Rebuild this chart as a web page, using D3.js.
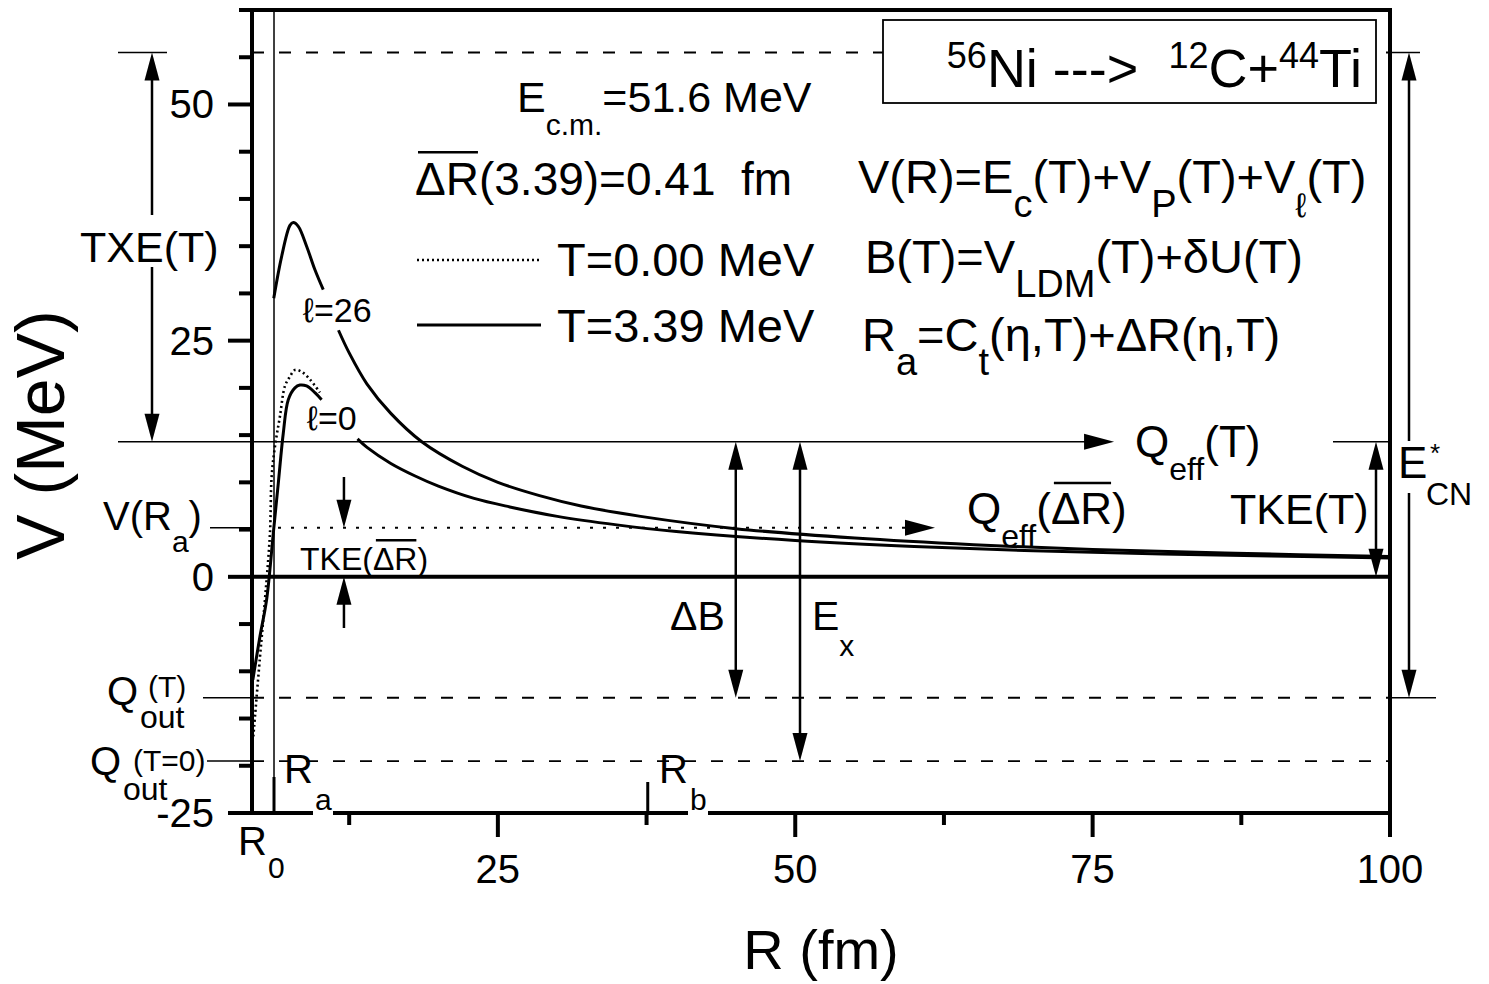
<!DOCTYPE html>
<html><head><meta charset="utf-8">
<script src="https://cdn.jsdelivr.net/npm/d3@7"></script>
<style>
body{margin:0;background:#fff}
text{font-family:"Liberation Sans",Arial,sans-serif;fill:#000}
</style></head>
<body><svg id="c" width="1489" height="984"></svg>
<script>
// ---------------- data ----------------
const xDomain = [4.33, 100];
const yDomain = [-25, 60];
const xMajorTicks = [25, 50, 75, 100];
const xMinorTicks = [12.5, 37.5, 62.5, 87.5];
const xTickLabels = ["25", "50", "75", "100"];
const yMajorTicks = [-25, 0, 25, 50];
const yMinorTicks = [-20, -15, -10, -5, 5, 10, 15, 20, 30, 35, 40, 45, 55, 60];
const yTickLabels = ["-25", "0", "25", "50"];

// T = 3.39 MeV, l = 26 (solid)
const l26Barrier_R = [6.16, 6.82, 7.52, 7.80, 8.22, 8.92, 9.62, 10.32];
const l26Barrier_V = [29.5, 33.9, 37.2, 37.5, 37.1, 35.0, 32.5, 30.4];
const l26Tail_R = [11.6, 12.5, 14, 16, 18.6, 22, 25, 28.5, 32, 37, 45, 55, 65, 75, 87, 100];
const l26Tail_V = [26.1, 23.7, 20.4, 17.3, 14.3, 11.7, 10.0, 8.6, 7.5, 6.4, 5.1, 4.1, 3.4, 2.9, 2.5, 2.15];
// T = 3.39 MeV, l = 0 (solid)
const l0Barrier_R = [4.40, 5.0, 5.56, 6.12, 6.54, 6.96, 7.38, 7.94, 8.36, 8.92, 9.62, 10.18];
const l0Barrier_V = [-10.9, -6.3, -2.4, 4.6, 9.9, 15.2, 18.75, 20.0, 20.3, 20.2, 19.5, 18.75];
const l0Tail_R = [13.2, 14, 16, 18, 20, 23, 26, 30, 35, 40, 50, 60, 70, 80, 90, 100];
const l0Tail_V = [14.6, 13.7, 12.0, 10.7, 9.6, 8.3, 7.4, 6.4, 5.5, 4.8, 3.85, 3.2, 2.75, 2.45, 2.2, 2.0];
// T = 0.00 MeV, l = 0 (dotted)
const t0Barrier_R = [4.44, 5.0, 5.42, 5.84, 5.98, 6.26, 6.68, 7.10, 7.52, 7.94, 8.50, 9.20, 10.04];
const t0Barrier_V = [-16.9, -8.5, -2.4, 4.6, 10.6, 13.8, 17.0, 20.2, 21.2, 21.9, 21.7, 20.9, 19.5];

// characteristic energies (MeV) and radii (fm)
const levelTop = 55.5;      // E_CN* top
const levelQeffT = 14.3;    // Q_eff(T)
const levelVRa = 5.2;       // V(R_a)
const levelQoutT = -12.8;   // Q_out(T)
const levelQoutT0 = -19.5;  // Q_out(T=0)
const levelTKE = 0;
const radiusRa = 6.18;
const radiusRb = 37.6;
const radiusDB = 45.0;
const radiusEx = 50.4;
const radiusTKEdR = 12.06;
const radiusQeffArrow = 76.8;
const radiusQeffDRArrow = 61.75;

// ---------------- drawing ----------------
const svg = d3.select("#c");
const x = d3.scaleLinear().domain(xDomain).range([252, 1390]);
const y = d3.scaleLinear().domain(yDomain).range([813, 10]);
const X0 = x(xDomain[0]), X1 = x(xDomain[1]), Y0 = y(yDomain[0]), Y1 = y(yDomain[1]);

function ln(x1, y1, x2, y2, w, dash) {
  const l = svg.append("line").attr("x1", x1).attr("y1", y1).attr("x2", x2).attr("y2", y2)
    .attr("stroke", "#000").attr("stroke-width", w);
  if (dash) l.attr("stroke-dasharray", dash);
  return l;
}
function head(tx, ty, dir, len = 28, hw = 7.5) {
  let pts;
  if (dir === "up") pts = [[tx, ty], [tx - hw, ty + len], [tx + hw, ty + len]];
  if (dir === "down") pts = [[tx, ty], [tx - hw, ty - len], [tx + hw, ty - len]];
  if (dir === "right") pts = [[tx, ty], [tx - len, ty - hw], [tx - len, ty + hw]];
  if (dir === "left") pts = [[tx, ty], [tx + len, ty - hw], [tx + len, ty + hw]];
  svg.append("polygon").attr("points", pts.map(p => p.join(",")).join(" ")).attr("fill", "#000");
}
function rich(x0, y0, size, parts, opts = {}) {
  const t = svg.append("text").attr("x", x0).attr("y", y0).attr("font-size", size);
  if (opts.anchor) t.attr("text-anchor", opts.anchor);
  let cur = 0;
  const over = [];
  parts.forEach(p => {
    const [txt, kind, ov, sz, off0] = p;
    const k = kind || "n";
    const ss = sz || (k === "n" ? size : size * 0.72);
    const off = off0 !== undefined ? off0 : (k === "sub" ? size * 0.52 : k === "sup" ? -size * 0.42 : 0);
    const ts = t.append("tspan").attr("dy", off - cur).attr("font-size", ss).text(txt);
    if (ov) over.push(ts);
    cur = off;
  });
  over.forEach(ts => {
    const n = ts.node(), c = n.getNumberOfChars();
    const s = n.getStartPositionOfChar(0), e = n.getEndPositionOfChar(c - 1);
    const yy = s.y - size * 0.93;
    ln(s.x + 3, yy, e.x - 1, yy, 2.5);
  });
  return t;
}

// dashed reference levels
[levelTop, levelQoutT, levelQoutT0].forEach(v => ln(X0, y(v), X1, y(v), 1.8, "12,15"));
// dotted V(Ra) level
ln(x(radiusRa) + 4, y(levelVRa), x(radiusQeffDRArrow) - 26, y(levelVRa), 2, "3,10");
head(x(radiusQeffDRArrow), y(levelVRa), "right", 30, 8);
// leaders left of the axis
ln(210, y(levelVRa), X0, y(levelVRa), 1.5);
ln(203, y(levelQoutT), X0, y(levelQoutT), 1.5);
ln(207, y(levelQoutT0), X0, y(levelQoutT0), 1.5);
ln(118, y(levelTop), 167, y(levelTop), 1.5);
// Q_eff(T) line
ln(118, y(levelQeffT), x(radiusQeffArrow) - 26, y(levelQeffT), 1.6);
head(x(radiusQeffArrow), y(levelQeffT), "right", 30, 8);
ln(1333, y(levelQeffT), X1, y(levelQeffT), 1.5);
// right leaders
ln(X1, y(levelTop), 1420, y(levelTop), 1.5);
ln(X1, y(levelQoutT), 1436, y(levelQoutT), 1.5);

// R_a thin vertical
ln(x(radiusRa), Y1, x(radiusRa), Y0, 1.5);

// curves
const lineGen = d3.line().x(d => x(d[0])).y(d => y(d[1])).curve(d3.curveCatmullRom.alpha(0.5));
function curve(R, V, w, dash) {
  const p = svg.append("path").datum(d3.zip(R, V)).attr("d", lineGen)
    .attr("fill", "none").attr("stroke", "#000").attr("stroke-width", w)
    .attr("stroke-linejoin", "round");
  if (dash) p.attr("stroke-dasharray", dash);
}
curve(t0Barrier_R, t0Barrier_V, 2.6, "2,3");
curve(l0Barrier_R, l0Barrier_V, 3);
curve(l0Tail_R, l0Tail_V, 3);
curve(l26Barrier_R, l26Barrier_V, 3);
curve(l26Tail_R, l26Tail_V, 3);

// zero line
ln(X0, y(0), X1, y(0), 4);

// frame
svg.append("rect").attr("x", X0).attr("y", Y1).attr("width", X1 - X0).attr("height", Y0 - Y1)
  .attr("fill", "none").attr("stroke", "#000").attr("stroke-width", 4);

// ticks
yMajorTicks.forEach(v => ln(X0 - 24, y(v), X0, y(v), 4));
yMinorTicks.forEach(v => ln(X0 - 13, y(v), X0, y(v), 4));
xMajorTicks.forEach(v => ln(x(v), Y0, x(v), Y0 + 24, 4));
xMinorTicks.forEach(v => ln(x(v), Y0, x(v), Y0 + 12, 4));
yMajorTicks.forEach((v, i) => svg.append("text").attr("x", 214).attr("y", y(v) + 14)
  .attr("text-anchor", "end").attr("font-size", 40).text(yTickLabels[i]));
xMajorTicks.forEach((v, i) => svg.append("text").attr("x", x(v)).attr("y", 883)
  .attr("text-anchor", "middle").attr("font-size", 40).text(xTickLabels[i]));

// R_a, R_b markers on axis
ln(x(radiusRa), Y0 - 36, x(radiusRa), Y0, 3);
ln(x(radiusRb), Y0 - 31, x(radiusRb), Y0, 3);
svg.append("rect").attr("x", 313).attr("y", 792).attr("width", 20).attr("height", 26).attr("fill", "#fff");
svg.append("rect").attr("x", 688).attr("y", 792).attr("width", 20).attr("height", 26).attr("fill", "#fff");

// axis titles
svg.append("text").attr("transform", "translate(64,435) rotate(-90)").attr("text-anchor", "middle")
  .attr("font-size", 68).text("V (MeV)");
svg.append("text").attr("x", 821).attr("y", 969).attr("text-anchor", "middle")
  .attr("font-size", 56).text("R (fm)");

// vertical arrows
ln(152, y(levelTop) + 20, 152, 215, 2.5); ln(152, 267, 152, y(levelQeffT) - 20, 2.5);
head(152, y(levelTop), "up"); head(152, y(levelQeffT), "down");
ln(x(radiusDB), y(levelQeffT) + 20, x(radiusDB), y(levelQoutT) - 20, 2.5);
head(x(radiusDB), y(levelQeffT), "up"); head(x(radiusDB), y(levelQoutT), "down");
ln(x(radiusEx), y(levelQeffT) + 20, x(radiusEx), y(levelQoutT0) - 20, 2.5);
head(x(radiusEx), y(levelQeffT), "up"); head(x(radiusEx), y(levelQoutT0), "down");
ln(1376, y(levelQeffT) + 20, 1376, y(levelTKE) - 20, 2.5);
head(1376, y(levelQeffT), "up"); head(1376, y(levelTKE), "down");
ln(1409, y(levelTop) + 20, 1409, 441, 2.5); ln(1409, 493, 1409, y(levelQoutT) - 20, 2.5);
head(1409, y(levelTop), "up"); head(1409, y(levelQoutT), "down");
ln(x(radiusTKEdR), 477, x(radiusTKEdR), y(levelVRa) - 20, 2.5); head(x(radiusTKEdR), y(levelVRa), "down");
ln(x(radiusTKEdR), 628, x(radiusTKEdR), y(0) + 20, 2.5); head(x(radiusTKEdR), y(0), "up");

// legend
ln(417, 260, 540, 260, 2.6, "2,3");
ln(417, 325, 541, 325, 3);
rich(557, 276, 47, [["T=0.00 MeV"]]);
rich(557, 342, 47, [["T=3.39 MeV"]]);

// header texts
rich(517, 112, 43, [["E"], ["c.m.", "sub", false, 30, 23], ["=51.6 MeV"]]);
rich(415, 195, 46, [["ΔR", "n", true], ["(3.39)=0.41 \u00a0fm"]]);
rich(858, 193, 47, [["V(R)=E"], ["c", "sub", false, 38, 24], ["(T)+V"], ["P", "sub", false, 38, 24], ["(T)+V"], ["ℓ", "sub", false, 34, 24], ["(T)"]]);
rich(865, 273, 47, [["B(T)=V"], ["LDM", "sub", false, 38, 24], ["(T)+δU(T)"]]);
rich(862, 351, 47, [["R"], ["a", "sub", false, 38, 24], ["=C"], ["t", "sub", false, 38, 24], ["(η,T)+ΔR(η,T)"]]);

// reaction box
svg.append("rect").attr("x", 883).attr("y", 20).attr("width", 493).attr("height", 83)
  .attr("fill", "#fff").attr("stroke", "#000").attr("stroke-width", 1.8);
rich(1362, 87, 54, [["56", "sup", false, 36, -19], ["Ni ---> \u00a0"], ["12", "sup", false, 36, -19], ["C+"], ["44", "sup", false, 36, -19], ["Ti"]], { anchor: "end" });

// annotation labels
rich(80, 262, 43, [["TXE(T)"]]);
rich(303, 322, 34, [["ℓ=26"]]);
rich(307, 430, 34, [["ℓ=0"]]);
rich(1135, 457, 44, [["Q"], ["eff", "sub", false, 32, 23], ["(T)"]]);
rich(967, 524, 44, [["Q"], ["eff", "sub", false, 32, 23], ["(", "n"], ["ΔR", "n", true], [")"]]);
rich(1230, 524, 43, [["TKE(T)"]]);
rich(1398, 478, 44, [["E"]]);
rich(1430, 462, 26, [["*"]]);
rich(1426, 505, 32, [["CN"]]);
rich(103, 530, 40, [["V(R"], ["a", "sub", false, 30, 22], [")"]]);
rich(300, 570, 32, [["TKE("], ["ΔR", "n", true], [")"]]);
rich(670, 630, 41, [["ΔB"]]);
rich(812, 630, 41, [["E"], ["x", "sub", false, 30, 26]]);
rich(107, 705, 40, [["Q"]]);
rich(148, 697, 30, [["(T)"]]);
rich(140, 728, 32, [["out"]]);
rich(90, 775, 40, [["Q"]]);
rich(133, 771, 30, [["(T=0)"]]);
rich(123, 800, 32, [["out"]]);
rich(284, 783, 40, [["R"]]);
rich(315, 810, 30, [["a"]]);
rich(659, 783, 40, [["R"]]);
rich(690, 810, 30, [["b"]]);
rich(238, 855, 40, [["R"]]);
rich(268, 878, 30, [["0"]]);
</script></body></html>
